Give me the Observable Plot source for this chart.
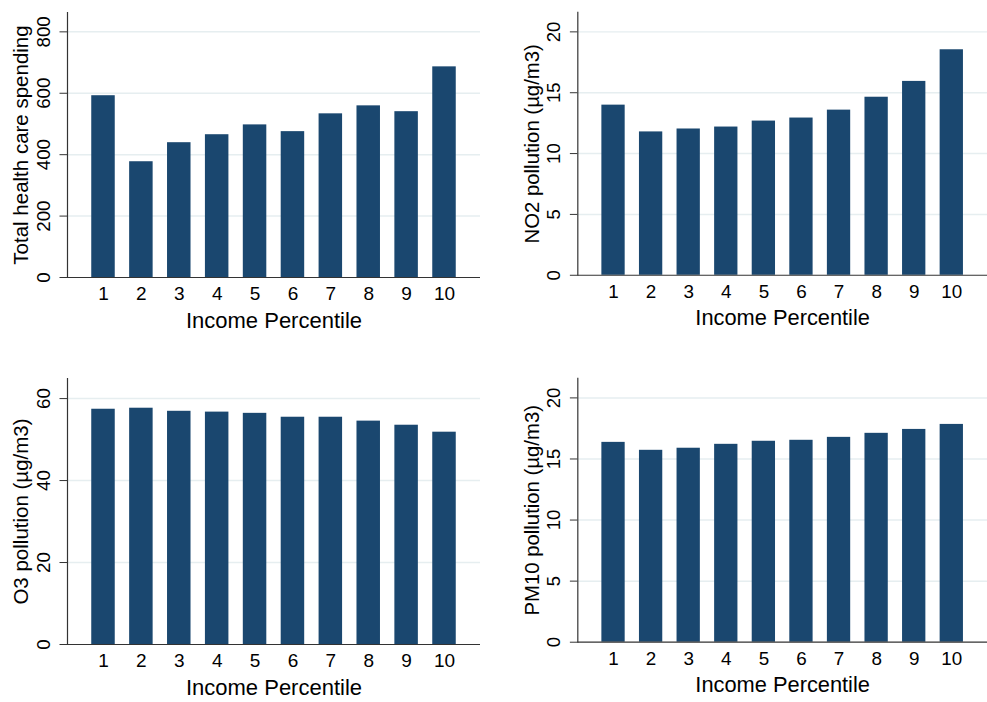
<!DOCTYPE html>
<html>
<head>
<meta charset="utf-8">
<script src="https://cdn.jsdelivr.net/npm/d3@7"></script>
<script src="https://cdn.jsdelivr.net/npm/@observablehq/plot@0.6"></script>
<style>
  html, body { margin: 0; padding: 0; background: #fff; }
  #wrap { position: relative; width: 987px; height: 702px; overflow: hidden; background: #fff; }
  .panel { position: absolute; }
</style>
</head>
<body>
<div id="wrap"></div>
<script>
// ---- data ----
const percentiles = [1, 2, 3, 4, 5, 6, 7, 8, 9, 10];
const healthSpending = [592, 377, 439, 465, 497, 475, 533, 559, 540, 686];
const no2 = [13.98, 11.78, 12.02, 12.18, 12.67, 12.92, 13.57, 14.63, 15.93, 18.53];
const o3 = [57.4, 57.65, 56.9, 56.7, 56.4, 55.45, 55.45, 54.5, 53.5, 51.8];
const pm10 = [16.36, 15.71, 15.88, 16.2, 16.45, 16.53, 16.77, 17.1, 17.42, 17.83];

const healthTicks = [0, 200, 400, 600, 800];
const no2Ticks = [0, 5, 10, 15, 20];
const o3Ticks = [0, 20, 40, 60];
const pm10Ticks = [0, 5, 10, 15, 20];

const xLabel = "Income Percentile";
const labels = ["Total health care spending", "NO2 pollution (µg/m3)", "O3 pollution (µg/m3)", "PM10 pollution (µg/m3)"];

// ---- styling ----
const FONT = "'Liberation Sans', Arial, Helvetica, sans-serif";
const BAR = "#1a476f";
const GRID = "#e6eef0";
const AXIS = "#333";

function panel({values, ticks, ymax, label, left, top, width, height, marginLeft, marginRight, marginTop, marginBottom}) {
  const rows = percentiles.map((p, i) => ({p, v: values[i]}));
  const svg = Plot.plot({
    width, height, marginLeft, marginRight, marginTop, marginBottom,
    style: {fontFamily: FONT, color: "#000", background: "transparent", overflow: "visible"},
    x: {type: "band", domain: percentiles, paddingInner: 0.38, paddingOuter: 0.64, align: 0.5, round: false},
    y: {domain: [0, ymax]},
    marks: [
      Plot.gridY(ticks.filter(t => t > 0), {stroke: GRID, strokeOpacity: 1, strokeWidth: 1.5}),
      Plot.barY(rows, {x: "p", y: "v", fill: BAR}),
      Plot.ruleY([0], {stroke: AXIS, strokeWidth: 1.2}),
      Plot.frame({anchor: "left", stroke: AXIS, strokeWidth: 1.2}),
      Plot.axisY(ticks, {tickSize: 7.5, tickPadding: 10, tickRotate: -90, fontSize: 18.7, stroke: AXIS, fill: "#000", label: null}),
      Plot.axisX({tickSize: 0, tickPadding: 9, fontSize: 19, fill: "#000", label: null}),
      Plot.text([label], {frameAnchor: "left", textAnchor: "middle", rotate: -90, dx: -54, lineAnchor: "top", fontSize: 20.5, fill: "#000"}),
      Plot.text([xLabel], {frameAnchor: "bottom", textAnchor: "middle", dy: 50.6, lineAnchor: "bottom", fontSize: 22, fill: "#000"})
    ]
  });
  const div = document.createElement("div");
  div.className = "panel";
  div.style.left = left + "px";
  div.style.top = top + "px";
  div.appendChild(svg);
  document.getElementById("wrap").appendChild(div);
}

panel({values: healthSpending, ticks: healthTicks, ymax: 863, label: labels[0],
  left: 0, top: 0, width: 493, height: 340, marginLeft: 67, marginRight: 13, marginTop: 12, marginBottom: 63});
panel({values: no2, ticks: no2Ticks, ymax: 21.6, label: labels[1],
  left: 493, top: 0, width: 498, height: 340, marginLeft: 85, marginRight: 0, marginTop: 12, marginBottom: 63});
panel({values: o3, ticks: o3Ticks, ymax: 64.9, label: labels[2],
  left: 0, top: 360, width: 493, height: 342, marginLeft: 67, marginRight: 13, marginTop: 18, marginBottom: 58});
panel({values: pm10, ticks: pm10Ticks, ymax: 21.6, label: labels[3],
  left: 493, top: 360, width: 498, height: 342, marginLeft: 85, marginRight: 0, marginTop: 18, marginBottom: 58});
</script>
</body>
</html>
